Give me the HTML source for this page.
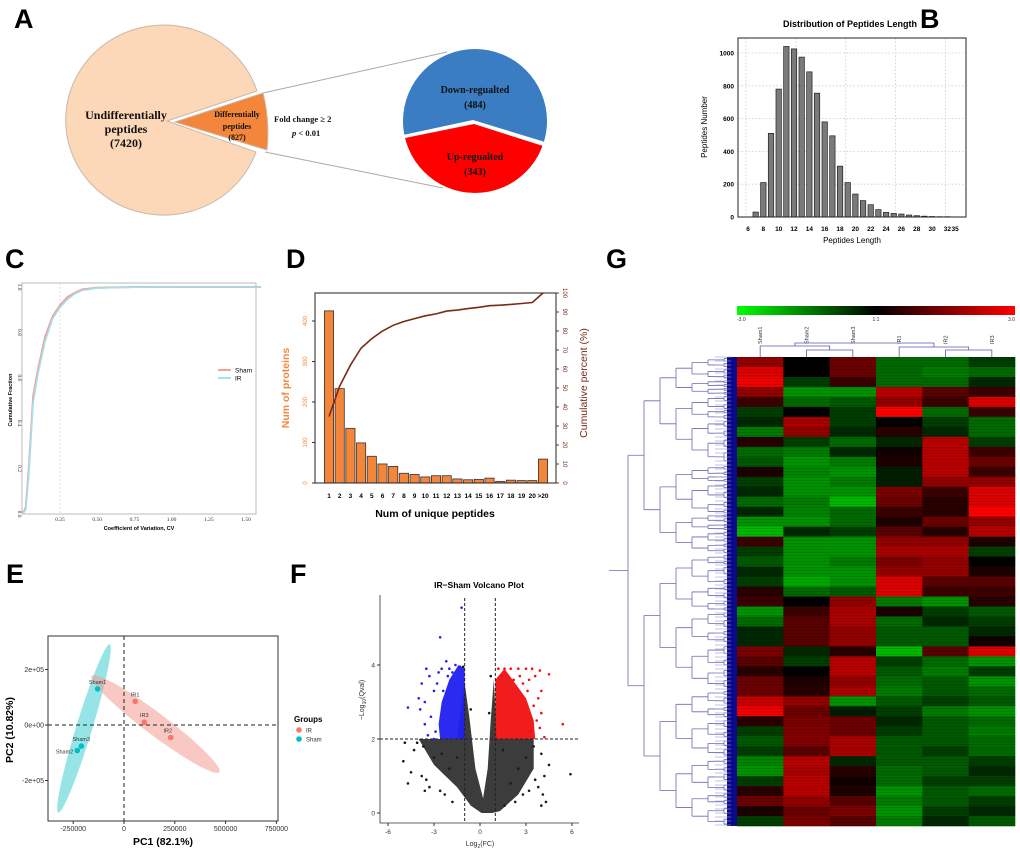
<!DOCTYPE html>
<html><head><meta charset="utf-8"><style>
html,body{margin:0;padding:0;background:#fff;}
svg{display:block;font-family:"Liberation Sans",Arial,sans-serif;}
.serif{font-family:"Liberation Serif",serif;}
</style></head><body>
<svg id="fig" width="1020" height="850" viewBox="0 0 1020 850" xmlns="http://www.w3.org/2000/svg">
<!-- Panel letters -->
<g font-weight="bold" font-size="27">
<text x="14" y="28">A</text>
<text x="920" y="28">B</text>
<text x="5" y="268">C</text>
<text x="286" y="268">D</text>
<text x="606" y="268">G</text>
<text x="6" y="583">E</text>
<text x="290" y="583">F</text>
</g>

<!-- Panel A -->
<g id="panelA">
<path d="M167,121 L257,91 A98,95 0 1 0 256,152 Z" fill="#fdd8b8" stroke="#c9b8a8" stroke-width="1"/>
<path d="M175,122 L263,93 Q270,121 267,150 Z" fill="#f4863b" stroke="#c9b8a8" stroke-width="1"/>
<line x1="263" y1="93" x2="447" y2="52" stroke="#aaa" stroke-width="1"/>
<line x1="265" y1="152" x2="443" y2="188" stroke="#aaa" stroke-width="1"/>
<clipPath id="rp"><ellipse cx="475" cy="121" rx="72" ry="72"/></clipPath>
<g clip-path="url(#rp)">
<polygon points="400,45 550,45 550,142 545,142 473,120 403,135 400,135" fill="#3a7dc2"/>
<polygon points="400,139 405,138 474,124 543,146 550,146 550,197 400,197" fill="#ff0000"/>
</g>
<g class="serif" font-weight="bold" text-anchor="middle" fill="#111">
<text x="126" y="119" font-size="12">Undifferentially</text>
<text x="126" y="133" font-size="12">peptides</text>
<text x="126" y="147" font-size="12">(7420)</text>
<text x="237" y="117" font-size="8">Differentially</text>
<text x="237" y="129" font-size="8">peptides</text>
<text x="237" y="140" font-size="8">(827)</text>
<text x="274" y="122" font-size="8.5" text-anchor="start">Fold  change ≥ 2</text>
<text x="292" y="136" font-size="8.5" text-anchor="start"><tspan font-style="italic">p</tspan> &lt; 0.01</text>
<text x="475" y="93" font-size="10">Down-regualted</text>
<text x="475" y="108" font-size="10">(484)</text>
<text x="475" y="160" font-size="10">Up-regualted</text>
<text x="475" y="175" font-size="10">(343)</text>
</g>
</g>

<g id="panelB"></g>
<g id="panelC"></g>
<g id="panelD"></g>
<g id="panelE"></g>
<g id="panelF"></g>
<g id="panelG"></g>
</svg>
<script>
// ---------- data ----------
var bCats = ['6','7','8','9','10','11','12','13','14','15','16','17','18','19','20','21','22','23','24','25','26','27','28','29','30','31','32','35'];
var bVals = [0,30,210,510,780,1040,1025,975,885,755,580,495,310,210,140,100,75,45,28,22,18,12,8,5,3,2,2,1];
var bYTicks = [0,200,400,600,800,1000];

var cCV = [0,0.02,0.04,0.07,0.1,0.15,0.2,0.25,0.3,0.35,0.4,0.5,0.75,1.0,1.6];
var cSham = [0,0.03,0.2,0.52,0.63,0.78,0.87,0.92,0.955,0.975,0.99,0.997,1,1,1];
var cIR = [0,0.02,0.17,0.49,0.61,0.76,0.86,0.91,0.945,0.97,0.985,0.995,0.999,1,1];
var cXTicks = [0.25,0.5,0.75,1.0,1.25,1.5];
var cXLabels = ['0.25','0.50','0.75','1.00','1.25','1.50'];
var cYTicks = [0,0.2,0.4,0.6,0.8,1.0];

var dCats = ['1','2','3','4','5','6','7','8','9','10','11','12','13','14','15','16','17','18','19','20','>20'];
var dCounts = [425,233,135,99,66,47,41,24,21,15,18,18,10,8,9,12,4,7,6,6,59];
var dCum = [35,51,62,71,76,80,83,85,86.5,88,89,90.5,91,91.8,92.5,93.3,93.6,94,94.5,95,100];
var dLeftTicks = [0,100,200,300,400];
var dRightTicks = [0,10,20,30,40,50,60,70,80,90,100];

var eNames = ['Sham1','Sham2','Sham3','IR1','IR2','IR3'];
var ePC1 = [-130000,-230000,-210000,55000,230000,100000];
var ePC2 = [130000,-92000,-76000,85000,-45000,10000];
var eGroup = ['Sham','Sham','Sham','IR','IR','IR'];
var eXTicks = [-250000,0,250000,500000,750000];
var eYTicks = [200000,0,-200000];
var eYLabels = ['2e+05','0e+00','-2e+05'];

var fBlueX = [-3.5,-3.3,-3.8,-3.0,-3.6,-4.0,-3.2,-3.6,-2.9,-3.9,-2.7,-2.5,-2.2,-1.6,-1.3,-2.0,-2.8,-2.4,-3.0,-4.7,-3.4,-2.6,-1.2,-1.8,-2.1];
var fBlueY = [3.9,3.7,3.5,3.3,3.0,3.1,2.6,2.4,2.2,2.8,3.8,3.9,4.1,4.0,3.95,3.9,3.5,3.3,2.0,2.85,2.1,4.75,5.55,3.8,3.7];
var fRedX = [1.2,1.6,2.0,2.5,3.0,3.4,3.9,4.5,3.6,4.0,3.8,3.5,4.0,3.7,5.4,3.3,4.2,2.8,3.1,1.4,2.2,3.9,2.6,3.2];
var fRedY = [3.9,3.9,3.9,3.9,3.9,3.9,3.85,3.75,3.7,3.3,3.1,2.9,2.7,2.5,2.4,2.2,2.05,3.5,3.3,3.7,3.6,2.3,3.7,3.6];
var fBlackX = [-5.0,-4.5,-4.1,-4.3,-3.7,-3.8,-3.5,-3.3,-3.0,-2.6,-2.3,-2.0,-1.8,-2.5,-3.6,-1.1,1.6,2.3,2.8,3.2,3.6,3.8,4.2,4.5,4.3,4.1,4.0,5.9,3.0,3.5,2.5,4.0,2.0,-1.5,1.5,0.7,-0.6,0.6,-4.7,-4.9];
var fBlackY = [1.4,1.1,1.9,1.7,1.8,1.0,0.9,0.7,1.5,0.6,0.5,1.2,0.3,1.6,0.6,3.95,0.2,0.3,0.5,0.6,0.9,0.7,1.0,1.3,0.3,0.5,0.2,1.05,1.5,1.8,1.2,1.6,0.8,1.5,1.7,3.7,2.8,2.7,0.8,1.9];
var fCoreBlackX = [-4,-1.5,-1.0,-0.7,-0.3,0.2,0.5,0.7,0.9,1.1,3.5,3.5,2.5,1.3,0.8,0.1,-0.6,-1.5,-3.0];
var fCoreBlackY = [2,2,3.5,2.6,1.2,0.4,1.2,2.5,3.6,2.0,2.0,1.2,0.5,0.05,0,0,0.2,0.7,1.3];
var fCoreBlueX = [-1,-1,-1.4,-2.0,-2.5,-2.7,-2.6];
var fCoreBlueY = [2,3.9,4.0,3.6,3.0,2.4,2.0];
var fCoreRedX = [1,1,1.6,2.3,3.0,3.5,3.6];
var fCoreRedY = [2,3.6,3.9,3.5,3.1,2.5,2.0];
var fXTicks = [-6,-3,0,3,6];
var fYTicks = [0,2,4];

var gSamples = ['Sham1','Sham2','Sham3','IR1','IR2','IR3'];
var gSham1 = [1.5,2.5,2.8,1.5,0.5,-0.5,-0.3,-1.2,0.3,-1,-0.8,0.2,-0.5,-0.3,-1,-0.3,-1.5,-2,0.5,-0.5,-0.8,-0.3,-0.5,0.3,0.5,-1.5,-1,-0.3,-0.3,1.2,0.8,0.3,1,1,2.2,2.8,0.3,-0.5,-0.8,-0.5,-1.3,-1.5,-0.5,0.3,1,0.2,-0.5];
var gSham2 = [0,0,-0.5,-1.5,-1,0,1.8,1.5,-0.5,-1.2,-1.5,-1.3,-1.5,-1.5,-1.2,-1.3,-1.5,-0.3,-1.5,-1.5,-1.5,-1.5,-1.8,-1,0,0.5,0.8,0.8,0.8,-0.3,-0.5,0,0.2,0.3,1.5,1,1.2,1.3,1.3,0.8,2,1.8,2,2,1.5,1,1.2];
var gSham3 = [1,1,0.5,-1.5,-0.8,-0.5,-0.5,-0.3,-1,-0.3,-1.2,-1.5,-1.2,-1.5,-2,-1,-1,-0.5,-1.5,-1.5,-1.2,-1.5,-1.5,-0.8,1.5,1.8,1.8,1.5,1.5,0.3,2,2,1.5,1.8,-1.5,-0.2,1,1,1.8,1.8,-0.3,0.3,0.1,0.2,0.8,1.2,0.8];
var gIR1 = [-1,-1,-1,2,1.5,3,0,0.3,-0.3,0.1,0.2,-0.2,-0.2,1.2,1,0.5,0.2,0.8,1.5,1.8,1.2,1.5,2.5,2.5,-1.2,0.2,-1,-0.8,-0.8,-2,-0.5,-0.8,-1,-1.2,-0.8,-0.5,-0.3,-0.5,-0.8,-0.8,-0.8,-1,-1,-1.5,-1.2,-1.5,-1.2];
var gIR2 = [-1,-1.2,-1,0.8,0.5,-1,-0.5,-0.3,2,2,2,2,1.5,0.5,0.3,0.3,1,0.3,1.5,1.8,1.5,1.5,0.8,0.5,-1.5,-0.5,-0.3,-0.8,-0.8,0.8,-1,-1.2,-0.8,-0.8,-0.5,-1.2,-0.8,-0.8,-0.8,-0.5,-0.8,-0.8,-0.5,-0.8,-0.8,-0.5,-0.3];
var gIR3 = [-0.5,-1,-0.3,0.5,2.5,0.5,-1,-1,-0.5,0.5,1,0.5,1.5,2.5,2.5,3,1.5,2,0.2,-0.5,0,0.2,0.8,0.5,0.3,-0.8,-0.5,-0.3,0.1,2.5,-1.5,-0.5,-1.5,-1,-0.8,-1.5,-1,-1.2,-1,-1,-0.5,-0.3,-0.5,-1,-0.5,-0.3,-0.8];
var gCols = [gSham1,gSham2,gSham3,gIR1,gIR2,gIR3];
var gTreeSplits = [0.42,0.55,0.35,0.6,0.5,0.45,0.62,0.4,0.5,0.58,0.38,0.52,0.47,0.6,0.44,0.5];

// ---------- helpers ----------
var NS='http://www.w3.org/2000/svg';
function mk(parent,tag,attrs,text){var e=document.createElementNS(NS,tag);for(var k in attrs)e.setAttribute(k,attrs[k]);if(text!==undefined)e.textContent=text;parent.appendChild(e);return e;}

// ---------- Panel B ----------
(function(){
 var g=document.getElementById('panelB');
 var L=738,R=966,T=38,B=217;
 var yS=function(v){return 217-v*0.164;};
 var xS=function(i){return 748+i*7.67;};
 var t=mk(g,'text',{x:850,y:27,'font-size':9,'font-weight':'bold','text-anchor':'middle'},'Distribution of Peptides Length');
 
 
 bYTicks.forEach(function(v){var y=yS(v);
  var l=mk(g,'line',{x1:L,x2:R,y1:y,y2:y,stroke:'#ccc','stroke-dasharray':'1.5,2','stroke-width':0.8});
  
  
  var tl=mk(g,'text',{x:L-4,y:y+2.5,'font-size':6.5,'font-weight':'bold','text-anchor':'end'},String(v));
  
  });
 [0,6.5,13,19.5,26].forEach(function(i){var x=xS(i)-2;
  var l=mk(g,'line',{x1:x,x2:x,y1:T,y2:B,stroke:'#ccc','stroke-dasharray':'1.5,2','stroke-width':0.8});
  
  });
 bVals.forEach(function(v,i){var x=xS(i),y=yS(v);
  var r=mk(g,'rect',{x:x-2.7,y:y,width:5.4,height:B-y,fill:'#7a7a7a',stroke:'#222','stroke-width':0.7});
  
  
  if(i%2===0||i===bCats.length-1){var tl=mk(g,'text',{x:x,y:231,'font-size':6.5,'font-weight':'bold','text-anchor':'middle'},bCats[i]);
   
   }
 });
 var fr=mk(g,'rect',{x:L,y:T,width:R-L,height:B-T,fill:'none',stroke:'#222','stroke-width':1});
 
 
 var xt=mk(g,'text',{x:852,y:243,'font-size':8,'text-anchor':'middle'},'Peptides Length');
 
 
 var yt=mk(g,'text',{x:0,y:0,'font-size':8,'text-anchor':'middle',transform:'translate(707,127) rotate(-90)'},'Peptides Number');
 
 
})();

// ---------- Panel C ----------
(function(){
 var g=document.getElementById('panelC');
 var L=22,R=256,T=283,B=514;
 var xS=function(v){return 22.8+v*148.8;};
 var yS=function(v){return 514-v*227;};
 var fr=mk(g,'rect',{x:L,y:T,width:R-L,height:B-T,fill:'none',stroke:'#bbb','stroke-width':1});
 
 
 var vl=mk(g,'line',{x1:xS(0.25),x2:xS(0.25),y1:T,y2:B,stroke:'#ddd','stroke-dasharray':'2,2'});
 
 
 function path(arr){return arr.map(function(v,i){return (i?'L':'M')+xS(cCV[i]).toFixed(1)+','+yS(v).toFixed(1);}).join(' ');}
 var ps=mk(g,'path',{d:path(cSham),fill:'none',stroke:'#f3a0a0','stroke-width':2});
 
 
 var pi=mk(g,'path',{d:path(cIR),fill:'none',stroke:'#9fe4ec','stroke-width':1.6});
 
 
 cXTicks.forEach(function(v,i){var t=mk(g,'text',{x:xS(v),y:521,'font-size':5.5,'text-anchor':'middle','class':'serif',fill:'#333'},cXLabels[i]);
  
  });
 cYTicks.forEach(function(v){var y=yS(v);var t=mk(g,'text',{x:0,y:0,'font-size':5.5,'text-anchor':'middle','class':'serif',fill:'#333',transform:'translate(18,'+y+') rotate(90)'},v.toFixed(1));
  
  });
 var xt=mk(g,'text',{x:139,y:530,'font-size':5.5,'font-weight':'bold','text-anchor':'middle'},'Coefficient of Variation, CV');
 
 
 var yt=mk(g,'text',{x:0,y:0,'font-size':5.5,'font-weight':'bold','text-anchor':'middle',transform:'translate(12,400) rotate(-90)'},'Cumulative Fraction');
 
 
 var lg=mk(g,'g',{});
 
 
 mk(lg,'line',{x1:218,x2:231,y1:370,y2:370,stroke:'#f3a0a0','stroke-width':2});
 var a=mk(lg,'text',{x:235,y:372.5,'font-size':6.5},'Sham');
 
 
 mk(lg,'line',{x1:218,x2:231,y1:378,y2:378,stroke:'#9fe4ec','stroke-width':2});
 var b=mk(lg,'text',{x:235,y:380.5,'font-size':6.5},'IR');
 
 
})();

// ---------- Panel D ----------
(function(){
 var g=document.getElementById('panelD');
 var L=315,R=556,T=293,B=483;
 var yL=function(v){return B-v*0.405;};
 var yR=function(v){return B-v*1.9;};
 var xS=function(i){return 329+i*10.7;};
 dCounts.forEach(function(v,i){var x=xS(i),y=yL(v);
  var r=mk(g,'rect',{x:x-4.6,y:y,width:9.2,height:B-y,fill:'#f4863b',stroke:'#333','stroke-width':0.8});
  
  
  var t=mk(g,'text',{x:x,y:498,'font-size':6.5,'font-weight':'bold','text-anchor':'middle'},dCats[i]);
  
  });
 var d=dCum.map(function(v,i){return (i?'L':'M')+xS(i).toFixed(1)+','+yR(v).toFixed(1);}).join(' ');
 var p=mk(g,'path',{d:d,fill:'none',stroke:'#7b2a16','stroke-width':1.6});
 
 
 var fr=mk(g,'rect',{x:L,y:T,width:R-L,height:B-T,fill:'none',stroke:'#222','stroke-width':1});
 
 
 dLeftTicks.forEach(function(v){var y=yL(v);
  mk(g,'line',{x1:L-3,x2:L,y1:y,y2:y,stroke:'#333'});
  var t=mk(g,'text',{x:0,y:0,'font-size':6,'text-anchor':'middle',fill:'#f4863b',transform:'translate(307,'+y+') rotate(-90)'},String(v));
  
  });
 dRightTicks.forEach(function(v){var y=yR(v);
  mk(g,'line',{x1:R,x2:R+3,y1:y,y2:y,stroke:'#7b2a16'});
  var t=mk(g,'text',{x:0,y:0,'font-size':6,'text-anchor':'middle',fill:'#7b2a16',transform:'translate(563,'+y+') rotate(90)'},String(v));
  
  });
 var xt=mk(g,'text',{x:435,y:517,'font-size':10.5,'font-weight':'bold','text-anchor':'middle'},'Num of unique peptides');
 
 
 var yt=mk(g,'text',{x:0,y:0,'font-size':10.5,'font-weight':'bold','text-anchor':'middle',fill:'#f4863b',transform:'translate(289,388) rotate(-90)'},'Num of proteins');
 
 
 var yt2=mk(g,'text',{x:0,y:0,'font-size':10.5,'text-anchor':'middle',fill:'#7b2a16',transform:'translate(587,383) rotate(-90)'},'Cumulative percent (%)');
 
 
})();

// ---------- Panel E ----------
(function(){
 var g=document.getElementById('panelE');
 var L=48,R=278,T=636,B=821;
 var xS=function(v){return 124+v*(50.8/250000);};
 var yS=function(v){return 725-v*(55.5/200000);};
 var fr=mk(g,'rect',{x:L,y:T,width:R-L,height:B-T,fill:'#fff',stroke:'#333','stroke-width':1});
 
 
 var e1=mk(g,'ellipse',{cx:84,cy:728.5,rx:88,ry:8,fill:'#5fd6d8','fill-opacity':0.65,transform:'rotate(-73 84 728.5)'});
 
 
 var e2=mk(g,'ellipse',{cx:155.5,cy:724,rx:80,ry:11,fill:'#f59a92','fill-opacity':0.55,transform:'rotate(37 155.5 724)'});
 
 
 mk(g,'line',{x1:xS(0),x2:xS(0),y1:T,y2:B,stroke:'#222','stroke-dasharray':'4,3','stroke-width':1});
 mk(g,'line',{x1:L,x2:R,y1:yS(0),y2:yS(0),stroke:'#222','stroke-dasharray':'4,3','stroke-width':1});
 ePC1.forEach(function(v,i){var x=xS(v),y=yS(ePC2[i]);var col=eGroup[i]==='IR'?'#f8766d':'#00bfc4';
  var c=mk(g,'circle',{cx:x,cy:y,r:2.8,fill:col});
  
  
  var lx=eNames[i]==='Sham2'?x-4:x, anc=eNames[i]==='Sham2'?'end':'middle', ly=eNames[i]==='Sham2'?y+3:y-5;
  if(eNames[i]==='IR2'){lx=x-3;}
  var t=mk(g,'text',{x:lx,y:ly,'font-size':5.5,'text-anchor':anc,fill:'#333'},eNames[i]);
  
  });
 eXTicks.forEach(function(v){var x=xS(v);mk(g,'line',{x1:x,x2:x,y1:B,y2:B+3,stroke:'#333'});
  var t=mk(g,'text',{x:x,y:831,'font-size':7,'text-anchor':'middle',fill:'#333'},String(v));
  
  });
 eYTicks.forEach(function(v,i){var y=yS(v);mk(g,'line',{x1:L-3,x2:L,y1:y,y2:y,stroke:'#333'});
  var t=mk(g,'text',{x:L-4,y:y+2.5,'font-size':7,'text-anchor':'end',fill:'#333'},eYLabels[i]);
  
  });
 var xt=mk(g,'text',{x:163,y:845,'font-size':10.5,'font-weight':'bold','text-anchor':'middle'},'PC1 (82.1%)');
 
 
 var yt=mk(g,'text',{x:0,y:0,'font-size':10.5,'font-weight':'bold','text-anchor':'middle',transform:'translate(13,730) rotate(-90)'},'PC2 (10.82%)');
 
 
 var lt=mk(g,'text',{x:294,y:722,'font-size':8,'font-weight':'bold'},'Groups');
 
 
 mk(g,'circle',{cx:299,cy:730,r:2.8,fill:'#f8766d'});
 var a=mk(g,'text',{x:306,y:732.5,'font-size':6,fill:'#333'},'IR');
 
 
 mk(g,'circle',{cx:299,cy:739,r:2.8,fill:'#00bfc4'});
 var b=mk(g,'text',{x:306,y:741.5,'font-size':6,fill:'#333'},'Sham');
 
 
})();

// ---------- Panel F ----------
(function(){
 var g=document.getElementById('panelF');
 var xS=function(v){return 480+v*15.33;};
 var yS=function(v){return 813-v*37;};
 var t=mk(g,'text',{x:479,y:588,'font-size':8.5,'font-weight':'bold','text-anchor':'middle'},'IR−Sham Volcano Plot');
 
 
 function poly(xs,ys,fill,name,op){var pts=xs.map(function(v,i){return xS(v).toFixed(1)+','+yS(ys[i]).toFixed(1);}).join(' ');
  var p=mk(g,'polygon',{points:pts,fill:fill,'fill-opacity':op});
  
  }
 poly(fCoreBlackX,fCoreBlackY,'#1a1a1a','nonsignificant-cloud',0.85);
 poly(fCoreBlueX,fCoreBlueY,'#1f1ff0','down-cloud',0.95);
 poly(fCoreRedX,fCoreRedY,'#f01010','up-cloud',0.95);
 function pts(xs,ys,fill,name){xs.forEach(function(v,i){var c=mk(g,'circle',{cx:xS(v),cy:yS(ys[i]),r:1.3,fill:fill});
  
  });}
 pts(fBlackX,fBlackY,'#1a1a1a','point-nonsignificant');
 pts(fBlueX,fBlueY,'#1f1ff0','point-down');
 pts(fRedX,fRedY,'#f01010','point-up');
 mk(g,'line',{x1:xS(-1),x2:xS(-1),y1:598,y2:823,stroke:'#222','stroke-dasharray':'3,2'});
 mk(g,'line',{x1:xS(1),x2:xS(1),y1:598,y2:823,stroke:'#222','stroke-dasharray':'3,2'});
 mk(g,'line',{x1:380,x2:579,y1:yS(2),y2:yS(2),stroke:'#222','stroke-dasharray':'3,2'});
 var ax=mk(g,'path',{d:'M380,595 L380,823 L579,823',fill:'none',stroke:'#333','stroke-width':0.8});
 
 
 fXTicks.forEach(function(v){var x=xS(v);mk(g,'line',{x1:x,x2:x,y1:823,y2:826,stroke:'#333'});
  var t=mk(g,'text',{x:x,y:834,'font-size':6.5,'text-anchor':'middle',fill:'#333'},String(v));
  
  });
 fYTicks.forEach(function(v){var y=yS(v);mk(g,'line',{x1:377,x2:380,y1:y,y2:y,stroke:'#333'});
  var t=mk(g,'text',{x:375,y:y+2.5,'font-size':6.5,'text-anchor':'end',fill:'#333'},String(v));
  
  });
 var xt=mk(g,'text',{x:480,y:846,'font-size':7,'text-anchor':'middle',fill:'#333'});
 xt.innerHTML='Log<tspan font-size="5" dy="2">2</tspan><tspan dy="-2">(FC)</tspan>';
 
 
 var yt=mk(g,'text',{x:0,y:0,'font-size':7,'text-anchor':'middle',fill:'#333',transform:'translate(364,700) rotate(-90)'});
 yt.innerHTML='−Log<tspan font-size="5" dy="2">10</tspan><tspan dy="-2">(Qval)</tspan>';
 
 
})();

// ---------- Panel G ----------
(function(){
 var g=document.getElementById('panelG');
 var HL=737,HR=1015,HT=357,HB=826;
 var nR=gSham1.length, cw=(HR-HL)/6, rh=(HB-HT)/nR;
 function col(v){var a=Math.min(1,Math.abs(v)/3);var c=Math.round(255*Math.pow(a,0.8));return v>=0?'rgb('+c+',0,0)':'rgb(0,'+c+',0)';}
 var defs=mk(g,'defs',{});
 var lg=mk(defs,'linearGradient',{id:'cb',x1:0,x2:1,y1:0,y2:0});
 mk(lg,'stop',{offset:'0','stop-color':'#00ff00'});
 mk(lg,'stop',{offset:'0.5','stop-color':'#000'});
 mk(lg,'stop',{offset:'1','stop-color':'#ff0000'});
 var cb=mk(g,'rect',{x:HL,y:306,width:HR-HL,height:9,fill:'url(#cb)'});
 
 
 [['-3.0',HL,'start'],['1:1',(HL+HR)/2,'middle'],['3.0',HR,'end']].forEach(function(a){var t=mk(g,'text',{x:a[1],y:321,'font-size':5,'text-anchor':a[2],fill:'#333'},a[0]);
  
  });
 gCols.forEach(function(arr,c){arr.forEach(function(v,r){
  var rc=mk(g,'rect',{x:HL+c*cw,y:HT+r*rh,width:cw+0.3,height:rh+0.3,fill:col(v)});
  
  });
  var cx=HL+(c+0.5)*cw;
  var t=mk(g,'text',{x:0,y:0,'font-size':5.5,fill:'#333','text-anchor':'start',transform:'translate('+(cx+2)+',344) rotate(-90)'},gSamples[c]);
  
  });
 for(var y=HT;y<HB;y+=3){mk(g,'rect',{x:HL,y:y,width:HR-HL,height:1,fill:'#000','fill-opacity':0.12});}
 var cxs=[0,1,2,3,4,5].map(function(i){return HL+(i+0.5)*cw;});
 var cd=mk(g,'path',{d:'M'+cxs[1]+',357 V350 H'+cxs[2]+' V357 M'+cxs[0]+',357 V346 H'+((cxs[1]+cxs[2])/2)+' V350 M'+cxs[4]+',357 V350 H'+cxs[5]+' V357 M'+cxs[3]+',357 V347 H'+((cxs[4]+cxs[5])/2)+' V350 M'+((cxs[0]+(cxs[1]+cxs[2])/2)/2)+',346 V343 H'+((cxs[3]+(cxs[4]+cxs[5])/2)/2)+' V347',fill:'none',stroke:'#5a5ab0','stroke-width':0.8});
 
 
 var si=0, d='';
 function tree(y0,y1,depth){
  var x=612+depth*16;
  if(depth>=7||y1-y0<3){d+='M'+x+','+((y0+y1)/2)+' H729 ';return (y0+y1)/2;}
  var s=gTreeSplits[si++%gTreeSplits.length];
  var m=y0+(y1-y0)*s;
  var a=tree(y0,m,depth+1), b=tree(m,y1,depth+1);
  var xc=x+16;
  d+='M'+xc+','+a+' V'+b+' ';
  var mid=(a+b)/2;
  if(depth>0){d+='M'+x+','+mid+' H'+xc+' ';}
  return mid;
 }
 var root=tree(HT,HB,0);
 var rd=mk(g,'path',{d:d,fill:'none',stroke:'#6a6ab8','stroke-width':0.8});
 
 
 var rt=mk(g,'line',{x1:609,x2:628,y1:root,y2:root,stroke:'#6a6ab8','stroke-width':0.8});
 
 
 var lb=mk(g,'rect',{x:727,y:HT,width:10,height:HB-HT,fill:'#0a0a8a'});
 
 
 for(var yy=HT;yy<HB;yy+=4){mk(g,'line',{x1:715,x2:731,y1:yy,y2:yy,stroke:'#9a9ad0','stroke-width':0.6});}
})();
</script>
</body></html>
